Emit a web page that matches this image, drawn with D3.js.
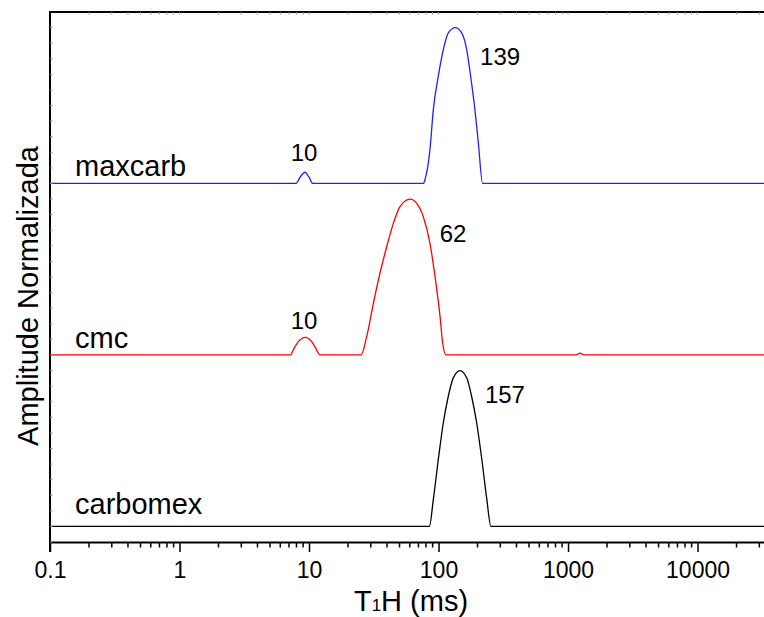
<!DOCTYPE html>
<html>
<head>
<meta charset="utf-8">
<script src="https://cdn.jsdelivr.net/npm/d3@7"></script>
<style>
  body { margin: 0; background: #fff; }
  text { font-family: Arial, "Liberation Sans", sans-serif; fill: #000; }
</style>
</head>
<body>
<script>
// T1 distributions, stacked and normalized
const seriesNames = ['carbomex', 'cmc', 'maxcarb'];
const seriesColors = ['#000000', '#ff0000', '#2020ff'];
const seriesOffsets = [0, 1.1, 2.2];

const carbomexT = [0.1, 84.9, 91.2, 99.6, 108.9, 119, 130, 146.6, 165, 180, 197, 216, 236, 254, 32600];
const carbomexA = [0, 0, 0.173, 0.429, 0.665, 0.835, 0.953, 1, 0.953, 0.835, 0.665, 0.429, 0.173, 0, 0];

const cmcT = [0.1, 7.23, 7.56, 8.28, 9.31, 10.5, 11.1, 12.2, 25.2, 27.9, 31.4, 35.3, 39.8, 44.8, 50.4, 60.3, 67.9, 76.3, 85.9, 94, 102.8, 107.7, 114.3, 1150, 1240, 1330, 32600];
const cmcA = [0, 0, 0.032, 0.085, 0.113, 0.085, 0.053, 0, 0, 0.117, 0.331, 0.524, 0.694, 0.844, 0.951, 1, 0.972, 0.887, 0.716, 0.502, 0.246, 0.075, 0, 0, 0.012, 0, 0];

const maxcarbT = [0.1, 7.94, 8.53, 9.31, 10.0, 10.7, 76.3, 78.7, 85.9, 91.2, 99.6, 108.9, 119, 134.9, 151, 165, 177, 191, 203, 219, 32600];
const maxcarbA = [0, 0, 0.04, 0.072, 0.04, 0, 0, 0.026, 0.218, 0.474, 0.688, 0.859, 0.966, 1, 0.966, 0.859, 0.688, 0.474, 0.261, 0, 0];

// peak annotations: text, series index, peak position
const peakText = ['157', '10', '62', '10', '139'];
const peakSeries = [0, 1, 1, 2, 2];
const peakT = [157, 10, 62, 10, 139];

const xTickValues = [0.1, 1, 10, 100, 1000, 10000];
const xTickLabels = ['0.1', '1', '10', '100', '1000', '10000'];

const W = 764, H = 617;
const pLeft = 50, pRight = 764, pTop = 12, pBottom = 542;

const svg = d3.select('body').append('svg')
  .attr('width', W)
  .attr('height', H);

const xScale = d3.scaleLog()
  .domain([0.1, 32600])
  .range([pLeft, pRight]);
const yScale = d3.scaleLinear()
  .domain([-0.1, 3.3])
  .range([pBottom, pTop]);

svg.append('clipPath').attr('id', 'plot')
  .append('rect')
  .attr('x', pLeft).attr('y', pTop)
  .attr('width', pRight - pLeft).attr('height', pBottom - pTop);

const seriesT = [carbomexT, cmcT, maxcarbT];
const seriesA = [carbomexA, cmcA, maxcarbA];

const line = d3.line()
  .x(d => xScale(d[0]))
  .y(d => yScale(d[1]))
  .curve(d3.curveMonotoneX);

seriesNames.forEach(function(name, i) {
  const pts = seriesT[i].map((t, j) => [t, seriesA[i][j] + seriesOffsets[i]]);
  svg.append('path')
    .attr('d', line(pts))
    .attr('clip-path', 'url(#plot)')
    .attr('fill', 'none')
    .attr('stroke', seriesColors[i])
    .attr('stroke-width', 1.3);
});

// series names
const nameGap = [12, 7, 7];
svg.selectAll('text.name')
  .data(seriesNames)
  .enter().append('text')
  .attr('class', 'name')
  .attr('x', 75)
  .attr('y', (d, i) => yScale(seriesOffsets[i]) - nameGap[i])
  .attr('font-size', 29)
  .text(d => d);

// peak labels, nudged off the peaks
const peakDx = [21, -5, 28, -5, 23];
const peakDy = [32, -26, 43, -22, 37];
svg.selectAll('text.peak')
  .data(peakText)
  .enter().append('text')
  .attr('class', 'peak')
  .attr('font-size', 24)
  .attr('text-anchor', (d, i) => peakT[i] < 20 ? 'middle' : 'start')
  .attr('x', (d, i) => xScale(peakT[i]) + peakDx[i])
  .attr('y', function(d, i) {
    const off = seriesOffsets[peakSeries[i]];
    if (peakT[i] < 20) return yScale(off) + peakDy[i];
    return yScale(off + 1) + peakDy[i];
  })
  .text(d => d);

// minor tick positions
const minor = [];
for (let e = -1; e <= 4; e++) {
  for (let k = 2; k <= 9; k++) {
    const v = k * Math.pow(10, e);
    if (v <= 32600) minor.push(v);
  }
}

// bottom axis
const xAxis = d3.axisBottom(xScale)
  .tickValues(xTickValues)
  .tickFormat((d, i) => xTickLabels[i])
  .tickSize(10)
  .tickSizeOuter(0)
  .tickPadding(10);
const gx = svg.append('g')
  .attr('transform', 'translate(0,' + pBottom + ')')
  .call(xAxis);
gx.select('.domain').attr('stroke-width', 2);
gx.selectAll('.tick line').attr('stroke-width', 1.5);
gx.selectAll('.tick text')
  .attr('font-size', 23)
  .attr('font-family', 'Arial, "Liberation Sans", sans-serif');
gx.selectAll('line.minor')
  .data(minor)
  .enter().append('line')
  .attr('class', 'minor')
  .attr('x1', d => xScale(d)).attr('x2', d => xScale(d))
  .attr('y1', 0).attr('y2', 5.5)
  .attr('stroke', '#000').attr('stroke-width', 1.5);

// top axis, short inward ticks
const gt = svg.append('g');
gt.append('line')
  .attr('x1', pLeft - 1).attr('x2', pRight)
  .attr('y1', pTop).attr('y2', pTop)
  .attr('stroke', '#000').attr('stroke-width', 2);
gt.selectAll('line.tk')
  .data(xTickValues.concat(minor))
  .enter().append('line')
  .attr('class', 'tk')
  .attr('x1', d => xScale(d)).attr('x2', d => xScale(d))
  .attr('y1', pTop).attr('y2', pTop + 2.5)
  .attr('stroke', '#888').attr('stroke-width', 1);

// left axis, short inward ticks
const gl = svg.append('g');
gl.append('line')
  .attr('x1', pLeft).attr('x2', pLeft)
  .attr('y1', pTop - 1).attr('y2', pBottom + 10)
  .attr('stroke', '#000').attr('stroke-width', 2);
gl.selectAll('line.tk')
  .data(d3.range(-0.1, 3.3, 0.1))
  .enter().append('line')
  .attr('class', 'tk')
  .attr('x1', pLeft).attr('x2', pLeft + 2.5)
  .attr('y1', d => yScale(d)).attr('y2', d => yScale(d))
  .attr('stroke', '#888').attr('stroke-width', 1);

// axis titles
const xt = svg.append('text')
  .attr('x', 411)
  .attr('y', 611)
  .attr('text-anchor', 'middle')
  .attr('font-size', 29);
xt.append('tspan').text('T');
xt.append('tspan').attr('font-size', 17).text('1');
xt.append('tspan').text('H (ms)');

svg.append('text')
  .attr('transform', 'translate(38,' + 296 + ') rotate(-90)')
  .attr('text-anchor', 'middle')
  .attr('font-size', 29)
  .text('Amplitude Normalizada');
</script>
</body>
</html>
